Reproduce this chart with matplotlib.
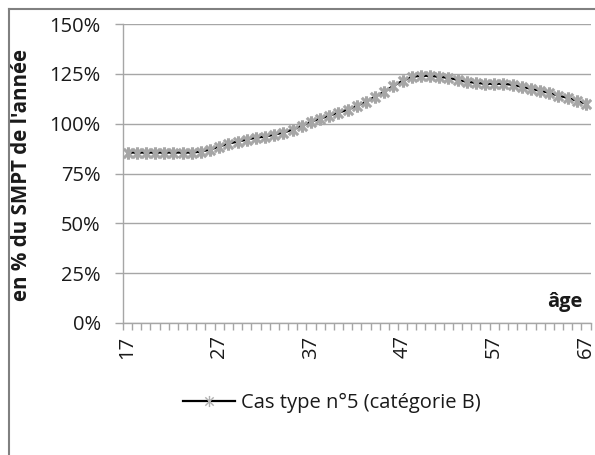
import numpy as np
import matplotlib
matplotlib.use("Agg")
import matplotlib.pyplot as plt
from matplotlib.path import Path
from matplotlib.lines import Line2D
from matplotlib.ticker import FuncFormatter

# ---- data ----
ages = list(range(17, 68))
values = [85.5, 85.5, 85.5, 85.5, 85.5, 85.5, 85.5, 85.5, 86.0, 87.0,
          88.5, 90.0, 91.0, 92.0, 93.0, 93.5, 94.5, 95.5, 97.0, 99.0,
          101.0, 102.5, 104.0, 105.5, 107.0, 109.0, 111.0, 113.5, 116.0, 119.0,
          121.5, 123.5, 124.0, 124.0, 123.5, 123.0, 122.0, 121.0, 120.5, 120.0,
          120.0, 120.0, 119.5, 118.5, 117.5, 116.5, 115.5, 114.0, 113.0, 111.5,
          110.0]
tick_ages = [17, 27, 37, 47, 57, 67]
y_ticks = [0, 25, 50, 75, 100, 125, 150]
series_label = "Cas type n°5 (catégorie B)"
y_label = "en % du SMPT de l'année"
x_label = "âge"

plt.rcParams['font.family'] = ['Open Sans', 'DejaVu Sans']
FS = 14.5
FSB = 14.8
TXT = '#1a1a1a'
GRID = '#a6a6a6'

W, H = 595, 455
fig = plt.figure(figsize=(W / 100, H / 100), dpi=100)
x0, x1, ytop, ybot = 123, 590.5, 24, 323
ax = fig.add_axes([x0 / W, 1 - ybot / H, (x1 - x0) / W, (ybot - ytop) / H])

# star marker: vertical line + X
star = Path([(0, -1), (0, 1), (-0.75, -0.75), (0.75, 0.75), (-0.75, 0.75), (0.75, -0.75)],
            [Path.MOVETO, Path.LINETO, Path.MOVETO, Path.LINETO, Path.MOVETO, Path.LINETO])

pos = np.arange(len(ages))
ax.plot(pos, values, color='black', lw=1.6, marker=star, markersize=9,
        markeredgecolor='#a6a6a6', markerfacecolor='none', markeredgewidth=2.2, zorder=3)

ax.set_xlim(-0.5, len(ages) - 0.5)
ax.set_ylim(0, 150)
ax.set_yticks(y_ticks)
ax.yaxis.set_major_formatter(FuncFormatter(lambda v, p: f"{v:.0f}%"))
ax.grid(axis='y', color=GRID, lw=1.0, zorder=0)
ax.set_axisbelow(True)

# category boundary ticks
ax.set_xticks(np.arange(-0.5, len(ages), 1.0))
ax.set_xticklabels([])
ax.set_xticks([ages.index(a) for a in tick_ages], [str(a) for a in tick_ages], minor=True)
ax.tick_params(axis='x', which='major', length=5, width=1.0, color=GRID, direction='out')
ax.tick_params(axis='x', which='minor', length=0, pad=9, labelsize=FS, labelcolor=TXT,
               labelrotation=90)
ax.tick_params(axis='y', length=6, width=1.0, color=GRID, pad=10, labelsize=FS, labelcolor=TXT)

for s in ['top', 'right']:
    ax.spines[s].set_visible(False)
for s in ['left', 'bottom']:
    ax.spines[s].set_color(GRID)
    ax.spines[s].set_linewidth(1.0)

ax.set_ylabel(y_label, fontsize=FSB, fontweight='bold', color=TXT)
ax.yaxis.set_label_coords(-(123 - 32) / (x1 - x0), 0.495)
ax.text(0.982, 0.07, x_label, transform=ax.transAxes, ha='right', va='center',
        fontsize=FS, fontweight='bold', color=TXT)

# legend
handle = Line2D([], [], color='black', lw=1.6, marker=star, markersize=8,
                markeredgecolor='#b0b0b0', markerfacecolor='none', markeredgewidth=1.0)
fig.legend([handle], [series_label], loc='center', bbox_to_anchor=(332 / W, 1 - 403 / H),
           frameon=False, fontsize=FS, handlelength=2.6, handletextpad=0.3,
           labelcolor=TXT)

# chart-area border (top and left visible)
bx, by = 8.5 / W, 1 - 8.5 / H
fig.add_artist(Line2D([bx, 1.0], [by, by], transform=fig.transFigure, color='#808080', lw=1.5))
fig.add_artist(Line2D([bx, bx], [0, by], transform=fig.transFigure, color='#808080', lw=1.5))

fig.savefig('out.png', dpi=100, facecolor='white')
